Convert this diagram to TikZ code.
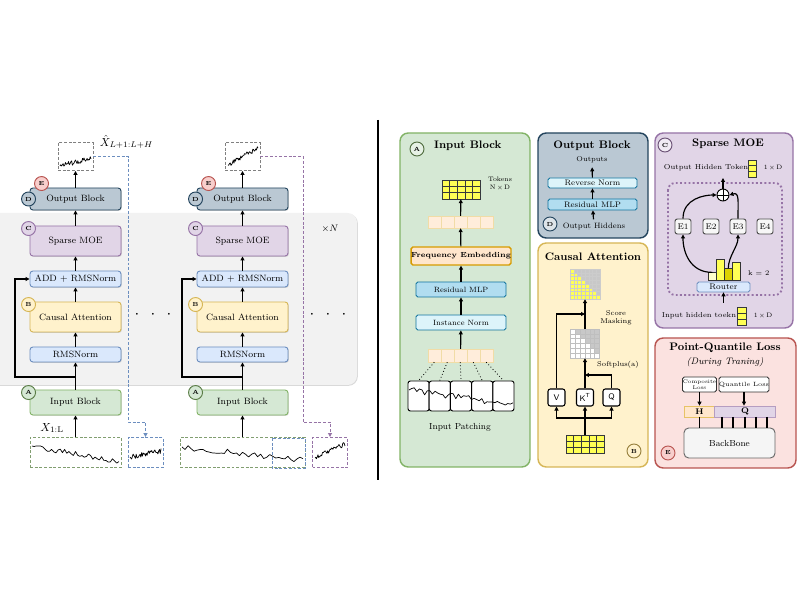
\documentclass[tikz,border=0pt]{standalone}
\usepackage{tikz}
\usetikzlibrary{arrows.meta}
\usetikzlibrary{positioning, calc, shadows}
\usepackage{amsmath}

\definecolor{gfill}{HTML}{D5E8D4}
\definecolor{gline}{HTML}{82B366}
\definecolor{yfill}{HTML}{FFF2CC}
\definecolor{yline}{HTML}{D6B656}
\definecolor{pfill}{HTML}{E1D5E7}
\definecolor{pline}{HTML}{9673A6}
\definecolor{bfill}{HTML}{DAE8FC}
\definecolor{bline}{HTML}{6C8EBF}
\definecolor{ofill}{HTML}{BAC8D3}
\definecolor{oline}{HTML}{23445D}
\definecolor{rfill}{HTML}{F8CECC}
\definecolor{rline}{HTML}{B85450}
\definecolor{cfill}{HTML}{B1DDF0}
\definecolor{cline}{HTML}{10739E}
\definecolor{nfill}{HTML}{DDF4FA}
\definecolor{efill}{HTML}{FFE6CC}
\definecolor{eline}{HTML}{D79B00}
\definecolor{tfill}{HTML}{FFFF55}
\definecolor{tline}{HTML}{36393D}
\definecolor{mgray}{HTML}{C8C8C8}
\definecolor{panelgray}{HTML}{F2F2F2}

\newcommand{\pxl}{0.03cm}
% jagged series: x0, x1, y start, y end, noise, seed
\newcommand{\tseries}[6]{%
  \pgfmathsetseed{#6}
  \draw[line width=0.6pt, line join=round] (#1,#3)
    \foreach \k in {1,...,40}{ -- ({#1+(#2-#1)*\k/40}, {#3+(#4-#3)*\k/40+#5*rand}) };
}

\begin{document}
\begin{tikzpicture}[x=0.03cm, y=-0.03cm, >={Triangle[length=3.4pt, width=3.4pt]},
    arr/.style={->, line width=0.9pt},
    arrs/.style={->, line width=1pt},
    shd/.style={drop shadow={shadow xshift=0.7pt, shadow yshift=-0.7pt, opacity=0.3}},
    blk/.style={draw, rounded corners=2.5pt, line width=0.8pt, minimum width=91*\pxl,
      inner sep=0pt, font=\fontsize{7.8}{9}\selectfont},
    badge/.style={circle, draw, line width=0.8pt, minimum size=14*\pxl, inner sep=0pt,
      font=\bfseries\fontsize{5}{5}\selectfont},
    dbox/.style={draw, dashed, dash pattern=on 2.5pt off 1.5pt, line width=0.8pt,
      fill=white, inner sep=0pt},
    dline/.style={dashed, dash pattern=on 2.5pt off 1.5pt, line width=0.8pt},
    panel/.style={rounded corners=7pt, line width=1.2pt},
    title/.style={font=\bfseries\fontsize{9.3}{11}\selectfont},
    sub/.style={draw, rounded corners=1.5pt, line width=0.7pt, inner sep=0pt,
      font=\fontsize{6.5}{7}\selectfont},
    frame/.style={inner sep=0pt},
    tcell/.style={fill=tfill, draw=tline, line width=0.4pt},
    pcell/.style={fill=efill!70, draw=eline!35, line width=0.4pt},
    qkv/.style={draw, rounded corners=2pt, line width=0.9pt, fill=white, minimum width=17*\pxl,
      minimum height=17*\pxl, inner sep=0pt, font=\sffamily\fontsize{7}{8}\selectfont},
    expert/.style={draw=black!70, fill=black!3, rounded corners=2pt, line width=0.8pt,
      minimum width=16*\pxl, minimum height=15*\pxl, inner sep=0pt, font=\fontsize{7}{8}\selectfont},
    bar/.style={draw=black!80, line width=0.5pt, minimum width=8*\pxl, inner sep=0pt, anchor=south west},
    lossbox/.style={draw=black!80, fill=white, rounded corners=1.5pt, line width=0.7pt, inner sep=0pt},
    tiny/.style={font=\fontsize{6}{7}\selectfont}]
\useasboundingbox (0,0) rectangle (800,600);

%% left: the two stacked columns
\fill[panelgray, rounded corners=8pt, shd] (-10,213) rectangle (357,385);
\node[font=\fontsize{8}{9}\selectfont] (xn) at (330,229) {$\times N$};

\foreach \c/\cx/\lx/\qx/\iw/\pc in {1/75.5/128/145.5/91/bline, 2/242.5/303/330/125/pline}{
  \node[blk, fill=ofill, draw=oline, minimum height=22*\pxl, shd] (outb\c) at (\cx,199) {Output Block};
  \node[blk, fill=pfill, draw=pline, minimum height=30*\pxl, shd] (moe\c) at (\cx,241) {Sparse MOE};
  \node[blk, fill=bfill, draw=bline, minimum height=16*\pxl, shd] (addn\c) at (\cx,279) {ADD + RMSNorm};
  \node[blk, fill=yfill, draw=yline, minimum height=30*\pxl, shd] (catt\c) at (\cx,317) {Causal Attention};
  \node[blk, fill=bfill, draw=bline, minimum height=15*\pxl, shd] (rmsn\c) at (\cx,354.5) {RMSNorm};
  \node[blk, fill=gfill, draw=gline, minimum height=25*\pxl, shd] (inb\c) at (\cx,402.5) {Input Block};
  % badges
  \node[badge, fill=gfill, draw=gline!70!black] (bA\c) at ($(inb\c.north west)+(-1,3)$) {A};
  \node[badge, fill=yfill, draw=yline] (bB\c) at ($(catt\c.north west)+(-1,3)$) {B};
  \node[badge, fill=pfill, draw=pline] (bC\c) at ($(moe\c.north west)+(-1,3)$) {C};
  \node[badge, fill=ofill, draw=oline] (bD\c) at ($(outb\c.west)+(-1,0)$) {D};
  \node[badge, fill=rfill, draw=rline] (bE\c) at ($(outb\c.north west)+(12,-4)$) {E};
  % series boxes
  \node[dbox, draw=gray, minimum width=35*\pxl, minimum height=28*\pxl] (obox\c) at (\cx,156.5) {};
  \node[dbox, draw=\pc, minimum width=35*\pxl, minimum height=30*\pxl] (pbox\c) at (\qx,452.5) {};
  \node[dbox, draw=gline!60!gray, minimum width=\iw*\pxl, minimum height=30*\pxl] (ibox\c) at (\cx,452.5) {};
  % flow
  \draw[arr] (ibox\c) -- (inb\c);
  \draw[arr] (inb\c) -- (rmsn\c);
  \draw[arr] (rmsn\c) -- (catt\c);
  \draw[arr] (catt\c) -- (addn\c);
  \draw[arr] (addn\c) -- (moe\c);
  \draw[arr] (moe\c) -- (outb\c);
  \draw[arr] (outb\c) -- (obox\c);
  \coordinate (split\c) at (\cx,377);
  \coordinate (resid\c) at (\cx-60.5,279);
  \draw[arr] (split\c) -| (resid\c) -- (addn\c.west);
  \coordinate (bend\c) at (\lx,422);
  \draw[dline, ->, draw=\pc] (obox\c.east) -| (bend\c) -| (pbox\c.north);
}
\draw[dline, draw=bline] (272,438) rectangle (305,468);

% time series
\tseries{32}{119}{446}{462}{3}{11}
\tseries{130}{161}{457}{451}{2.5}{12}
\tseries{60}{91}{166}{158}{2.5}{13}
\tseries{182}{303}{447}{460}{3}{14}
\tseries{315}{345}{458}{444}{2.5}{15}
\tseries{228}{258}{165}{148}{2.5}{16}

\node[font=\fontsize{10}{11}\selectfont, anchor=west, inner sep=0.5pt] (xhat) at (99,142) {$\hat{X}_{L+1:L+H}$};
\node[font=\fontsize{10}{11}\selectfont] (xin) at (52,428) {$X_{1:\mathrm{L}}$};
\node[font=\fontsize{15}{15}\selectfont] (dots1) at (153,315) {$\cdot\;\,\cdot\;\,\cdot$};
\node[font=\fontsize{15}{15}\selectfont] (dots2) at (328,315) {$\cdot\;\,\cdot\;\,\cdot$};

\draw[line width=1pt] (378,120) -- (378,480);

%% Input Block panel
\draw[panel, fill=gfill, draw=gline] (400,133) rectangle (530,467);
\node[badge, fill=gfill!60!white, draw=gline!60!black] (pA) at (417,149) {A};
\node[title, anchor=west] (tA) at (430,146) {Input Block};
\node[frame, minimum width=38*\pxl, minimum height=19*\pxl] (tokA) at (461,189.5) {};
\foreach \i in {0,...,4} \foreach \j in {0,...,2}
  \draw[tcell] ({442+\i*7.6},{180+\j*6.33}) rectangle ++(7.6,6.33);
\node[font=\fontsize{5.5}{6.5}\selectfont, align=center] (tokl) at (500,184) {Tokens\\N\,$\times$\,D};
\node[frame, minimum width=65*\pxl, minimum height=12*\pxl] (rowA) at (460.5,222) {};
\foreach \i in {0,...,4} \draw[pcell] ({428+\i*13},216) rectangle ++(13,12);
\node[sub, fill=efill, draw=eline, line width=1.1pt, minimum width=90*\pxl, minimum height=18*\pxl,
  font=\bfseries\fontsize{6.3}{7}\selectfont] (freq) at (461,256) {Frequency Embedding};
\node[sub, fill=cfill, draw=cline, minimum width=90*\pxl, minimum height=15*\pxl] (resA) at (461,289.5) {Residual MLP};
\node[sub, fill=nfill, draw=cline, minimum width=90*\pxl, minimum height=15*\pxl] (inorm) at (461,322.5) {Instance Norm};
\node[frame, minimum width=65*\pxl, minimum height=13*\pxl] (rowB) at (460.5,355.5) {};
\foreach \i in {0,...,4} \draw[pcell] ({428+\i*13},349) rectangle ++(13,13);
\foreach \w in {0,...,4}
  \node[draw, rounded corners=2pt, line width=0.8pt, fill=white, minimum width=21.2*\pxl,
    minimum height=30*\pxl, inner sep=0pt] (win\w) at ({418.6+\w*21.2},396) {};
\tseries{409}{513}{390}{405}{3}{17}
\foreach \w in {0,...,4}
  \draw[dotted, line width=0.7pt] ($(rowB.south west)+({6.5+\w*13},0)$) -- (win\w.north);
\node[font=\fontsize{7.5}{9}\selectfont] (patl) at (460,427) {Input Patching};
\draw[arrs] (rowB) -- (inorm);
\draw[arrs] (inorm) -- (resA);
\draw[arrs] (resA) -- (freq);
\draw[arrs] (freq) -- (rowA);
\draw[arrs] (rowA) -- (tokA);

%% Output Block panel
\draw[panel, fill=ofill, draw=oline] (538,133) rectangle (648,238);
\node[title] (tD) at (592,146) {Output Block};
\node[tiny] (outs) at (592,160) {Outputs};
\node[sub, fill=nfill, draw=cline, minimum width=89*\pxl, minimum height=10*\pxl,
  font=\fontsize{6.8}{7}\selectfont] (revn) at (592.5,183) {Reverse Norm};
\node[sub, fill=cfill, draw=cline, minimum width=89*\pxl, minimum height=11*\pxl,
  font=\fontsize{6.8}{7}\selectfont] (resD) at (592.5,204.5) {Residual MLP};
\node[badge, fill=ofill!50!white, draw=oline] (pD) at (550,224) {D};
\node[font=\fontsize{6.6}{7}\selectfont] (ohid) at (594,227) {Output Hiddens};
\draw[arrs] (ohid) -- (resD);
\draw[arrs] (resD) -- (revn);
\draw[arrs] (revn) -- (outs);

%% Causal Attention panel
\draw[panel, fill=yfill, draw=yline] (538,243) rectangle (648,467);
\node[title] (tB) at (593,257) {Causal Attention};
\node[frame, minimum width=30*\pxl, minimum height=30*\pxl] (mgrid) at (585,284) {};
\foreach \i in {0,...,7}{\foreach \j in {0,...,7}{
  \ifnum\i>\j \def\cc{mgray}\else\def\cc{tfill}\fi
  \draw[line width=0.3pt, draw=white!60!gray, fill=\cc] ({570+\i*3.75},{269+\j*3.75}) rectangle ++(3.75,3.75);
}}
\node[frame, minimum width=29*\pxl, minimum height=29*\pxl] (sgrid) at (585,343.5) {};
\foreach \i in {0,...,5}{\foreach \j in {0,...,5}{
  \ifnum\i>\j \def\cc{mgray}\else\def\cc{white}\fi
  \draw[line width=0.3pt, draw=white!50!gray, fill=\cc] ({570.5+\i*4.83},{329+\j*4.83}) rectangle ++(4.83,4.83);
}}
\node[tiny, align=center] (scl) at (616,318) {Score\\Masking};
\node[tiny] (spl) at (618,365) {Softplus(a)};
\node[qkv] (vbox) at (556.5,397.5) {V};
\node[qkv] (kbox) at (585,397.5) {K\textsuperscript{T}};
\node[qkv] (qbox) at (611.5,397.5) {Q};
\node[frame, minimum width=38*\pxl, minimum height=18*\pxl] (bgrid) at (585,444) {};
\foreach \i in {0,...,4} \foreach \j in {0,...,2}
  \draw[tcell] ({566+\i*7.6},{435+\j*6}) rectangle ++(7.6,6);
\node[badge, fill=yfill, draw=yline!70!black] (pB) at (634,451) {B};
\coordinate (fork) at (585,418);
\draw[line width=1pt] (bgrid.north) -- (fork);
\draw[arrs] (fork) -| (vbox.south);
\draw[arrs] (fork) -| (qbox.south);
\draw[arrs] (fork) -- (kbox.south);
\coordinate (qjoin) at (585,375);
\draw[arrs] (qbox.north) |- (qjoin);
\draw[arrs] (kbox.north) -- (sgrid.south);
\draw[arrs] (sgrid.north) -- (mgrid.south);
\coordinate (vjoin) at (585,314);
\draw[arrs] (vbox.north) |- (vjoin);

%% Sparse MOE panel
\draw[panel, fill=pfill, draw=pline] (655,133) rectangle (793,328);
\node[badge, fill=pfill!50!white, draw=pline!70!black] (pC) at (665,145) {C};
\node[title] (tC) at (728,144) {Sparse MOE};
\node[font=\fontsize{6.1}{7}\selectfont] (oht) at (706,168) {Output Hidden Token};
\node[frame, minimum width=8*\pxl, minimum height=17*\pxl] (ytok) at (752,168.5) {};
\foreach \j in {0,...,2} \draw[tcell] (748,{160+\j*5.67}) rectangle ++(8,5.67);
\node[font=\fontsize{5.5}{6}\selectfont] (od) at (773,168) {1\,$\times$\,D};
\draw[line width=1.6pt, dotted, draw=pline, rounded corners=6pt] (668,183) rectangle (782,295);
\node[circle, draw, fill=white, line width=0.8pt, minimum size=12*\pxl, inner sep=0pt] (oplus) at (723,195) {};
\draw[line width=0.8pt] (oplus.north) -- (oplus.south) (oplus.west) -- (oplus.east);
\coordinate (otop) at (723,178);
\draw[arrs] (oplus) -- (otop);
\foreach \e/\ex in {1/683, 2/711, 3/738, 4/765}
  \node[expert] (e\e) at (\ex,226.5) {E\e};
\draw[arrs] (e1.north) .. controls +(0,-20) and +(-12,0) .. (oplus.west);
\draw[arrs] (e3.north) .. controls +(0,-18) and +(10,-3) .. (oplus.east);
\node[bar, fill=tfill!30, minimum height=8*\pxl] (bar1) at (708,281) {};
\node[bar, fill=tfill, minimum height=21*\pxl] (bar2) at (716,281) {};
\node[bar, fill=yellow!70!olive, minimum height=12*\pxl] (bar3) at (724,281) {};
\node[bar, fill=tfill, minimum height=18*\pxl] (bar4) at (732,281) {};
\draw[arrs] (bar1.north) .. controls +(-22,0) and +(0,18) .. (e1.south);
\draw[arrs] (bar3.north) .. controls +(0,-12) and +(0,12) .. (e3.south);
\node[tiny, anchor=west] (kk) at (744,273) {k = 2};
\node[sub, fill=bfill, draw=bline, minimum width=53*\pxl, minimum height=10*\pxl,
  font=\fontsize{7}{8}\selectfont] (router) at (723.5,287) {Router};
\coordinate (rin) at (723.5,303);
\draw[arrs] (rin) -- (router.south);
\node[font=\fontsize{6.1}{7}\selectfont] (iht) at (699,316) {Input hidden toekn};
\node[frame, minimum width=9*\pxl, minimum height=18*\pxl] (ytok2) at (741.5,316) {};
\foreach \j in {0,...,2} \draw[tcell] (737,{307+\j*6}) rectangle ++(9,6);
\node[font=\fontsize{5.5}{6}\selectfont] (id) at (763,316) {1\,$\times$\,D};

%% Point-Quantile Loss panel
\draw[panel, fill=rfill!60!white, draw=rline] (655,338) rectangle (796,468);
\node[title] (tE) at (725,348) {Point-Quantile Loss};
\node[font=\itshape\fontsize{8}{9}\selectfont] (tE2) at (725,362) {(During Traning)};
\node[lossbox, minimum width=34*\pxl, minimum height=15*\pxl, align=center,
  font=\fontsize{4.5}{5}\selectfont] (comp) at (699.5,384.5) {Composite\\Loss};
\node[lossbox, minimum width=49*\pxl, minimum height=15*\pxl,
  font=\fontsize{5.2}{6}\selectfont] (qloss) at (744,384.5) {Quantile Loss};
\node[draw=eline!60, fill=efill, line width=0.6pt, minimum width=30*\pxl, minimum height=11*\pxl,
  inner sep=0pt, font=\bfseries\fontsize{7}{8}\selectfont] (hc) at (699.5,411.5) {H};
\node[draw=pline!70, fill=pfill, line width=0.6pt, minimum width=61*\pxl, minimum height=11*\pxl,
  inner sep=0pt, font=\bfseries\fontsize{7}{8}\selectfont] (qc) at (745,411.5) {Q};
\draw[arrs] (comp) -- (hc);
\draw[arrs] (qloss) -- (qc.north -| qloss);
\node[draw=black!60, fill=black!4, rounded corners=4pt, line width=0.8pt, minimum width=91*\pxl,
  minimum height=30*\pxl, font=\fontsize{7.5}{9}\selectfont] (bb) at (729.5,443) {BackBone};
\foreach \lx in {699.5,722,733,745,756,767}
  \draw[line width=1pt] (\lx,417) -- (\lx,428);
\node[badge, fill=rfill, draw=rline] (pE) at (668,453) {E};

\end{tikzpicture}
\end{document}
